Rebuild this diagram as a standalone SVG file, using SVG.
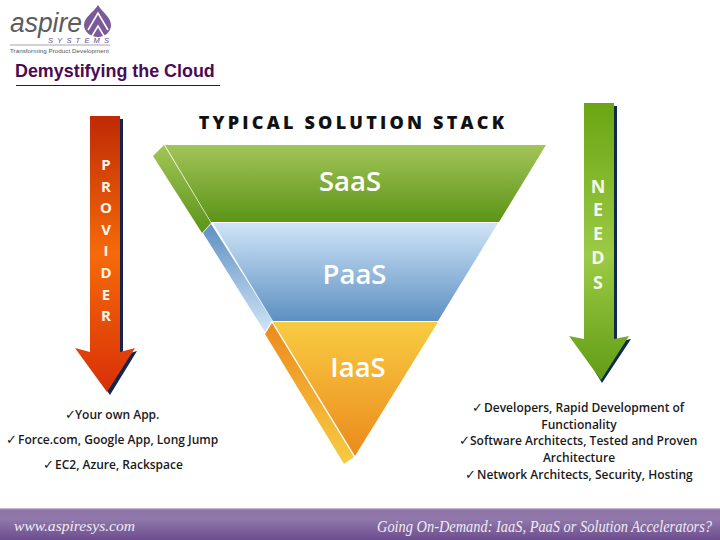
<svg xmlns="http://www.w3.org/2000/svg" width="720" height="540" viewBox="0 0 720 540">
<style>
.b{font-family:"Open Sans","Noto Sans",sans-serif;font-size:12px;font-weight:600;fill:#1a1a1a}
.c{font-family:"DejaVu Sans",sans-serif;font-size:13px;font-weight:400}
.s{font-family:"Open Sans","Noto Sans",sans-serif;font-size:27.5px;font-weight:600;fill:#fff;text-anchor:middle}
.v{font-family:"Open Sans","Noto Sans",sans-serif;font-weight:700;text-anchor:middle}
.f{font-family:"Liberation Serif",serif;font-style:italic;fill:#f0ecf4}
</style>
<defs>
<linearGradient id="g1" x1="0" y1="0" x2="0" y2="1"><stop offset="0" stop-color="#a3c558"/><stop offset="1" stop-color="#5c9418"/></linearGradient>
<linearGradient id="g2" x1="0" y1="0" x2="0" y2="1"><stop offset="0" stop-color="#cfe4f7"/><stop offset="1" stop-color="#5d90c2"/></linearGradient>
<linearGradient id="g2s" x1="0" y1="0" x2="0" y2="1"><stop offset="0" stop-color="#5d90c2"/><stop offset="1" stop-color="#cfe4f7"/></linearGradient>
<linearGradient id="g3" x1="0" y1="0" x2="0" y2="1"><stop offset="0" stop-color="#f8cb42"/><stop offset="1" stop-color="#ec8a1c"/></linearGradient>
<linearGradient id="g3s" x1="0" y1="0" x2="0" y2="1"><stop offset="0" stop-color="#ec8a1c"/><stop offset="1" stop-color="#f8cb42"/></linearGradient>
<linearGradient id="gr" x1="0" y1="0" x2="0" y2="1"><stop offset="0" stop-color="#bf2a05"/><stop offset=".5" stop-color="#f56a0a"/><stop offset="1" stop-color="#d83008"/></linearGradient>
<linearGradient id="gn" x1="0" y1="0" x2="0" y2="1"><stop offset="0" stop-color="#6aa513"/><stop offset=".55" stop-color="#9ccb45"/><stop offset="1" stop-color="#629c14"/></linearGradient>
<linearGradient id="gf" x1="0" y1="0" x2="0" y2="1"><stop offset="0" stop-color="#d9c8df"/><stop offset=".06" stop-color="#8e73a6"/><stop offset=".35" stop-color="#9078aa"/><stop offset="1" stop-color="#6c4d8e"/></linearGradient>
</defs>
<rect width="720" height="540" fill="#fff"/>

<g id="logo">
<text x="10" y="32" font-family="'Liberation Sans',sans-serif" font-style="italic" font-size="27" fill="#5c5c5c" textLength="72" lengthAdjust="spacingAndGlyphs">aspire</text>
<path d="M98 5C94 12 84 17 84 25C84 32 91 37 98 37C105 37 111 32 111 25C111 17 102 12 98 5Z" fill="#7a5a98"/>
<path d="M88 30L98 13L108 30M92 36L98 26L104 36" fill="none" stroke="#fff" stroke-width="1.6"/>
<text x="48" y="43" font-family="'Liberation Sans',sans-serif" font-style="italic" font-size="7.500" letter-spacing="4.200" fill="#6c4d8e">SYSTEMS</text>
<rect x="10" y="44.500" width="100" height="1" fill="#a7a2ad"/>
<text x="10" y="53" font-family="'Liberation Sans',sans-serif" font-size="6.200" fill="#555" textLength="99">Transforming Product Development</text>
</g>

<g id="title">
<text x="15" y="77" font-family="'Liberation Sans',sans-serif" font-weight="700" font-size="17.900" fill="#4b0a55">Demystifying the Cloud</text>
<rect x="16" y="85" width="204" height="1" fill="#222"/>
</g>
<text id="heading" x="353" y="129" text-anchor="middle" font-family="'Open Sans',sans-serif" font-weight="800" font-size="18" letter-spacing="3.200" fill="#111">TYPICAL SOLUTION STACK</text>

<g id="saas">
<polygon points="153,156 164,145 211,223 202,233" fill="url(#g1)"/>
<polygon points="165,145 546,145 499,222 211,222" fill="url(#g1)"/>
<text class="s" x="350" y="191">SaaS</text>
</g>
<g id="paas">
<polygon points="203,233 211,224 272,320 265,332" fill="url(#g2s)"/>
<polygon points="213,223 498,223 438,321 273,321" fill="url(#g2)"/>
<text class="s" x="354.500" y="284">PaaS</text>
</g>
<g id="iaas">
<polygon points="265,334 272,323 354,457 344,464" fill="url(#g3s)"/>
<polygon points="273,322 438,322 355,456" fill="url(#g3)"/>
<text class="s" x="358" y="377">IaaS</text>
</g>

<g id="provider">
<polygon points="93,119 123,119 123,355 137,351 110,395 78,351 93,355" fill="#14254f"/>
<polygon points="90,116 120,116 120,352 135,348 107,392 75,348 90,352" fill="url(#gr)"/>
<text class="v" font-size="15" fill="#fff6ea">
<tspan x="106" y="170">P</tspan><tspan x="106" y="192">R</tspan><tspan x="106" y="213">O</tspan><tspan x="106" y="235">V</tspan><tspan x="106" y="256">I</tspan><tspan x="106" y="278">D</tspan><tspan x="106" y="300">E</tspan><tspan x="106" y="321">R</tspan>
</text>
</g>

<g id="needs">
<polygon points="587,106 617,106 617,342 631,339 602,383 575,339 587,342" fill="#0f2a4a"/>
<polygon points="584,103 614,103 614,339 629,336 601,380 569,336 584,339" fill="url(#gn)"/>
<text class="v" font-size="18" font-weight="600" fill="#f4f9e8">
<tspan x="598" y="193">N</tspan><tspan x="598" y="216">E</tspan><tspan x="598" y="240">E</tspan><tspan x="598" y="264">D</tspan><tspan x="598" y="289">S</tspan>
</text>
</g>

<g id="provider-list">
<text class="b" x="65" y="419"><tspan class="c">✓</tspan><tspan x="75">Your own App.</tspan></text>
<text class="b" x="6" y="444"><tspan class="c">✓</tspan><tspan x="18">Force.com, Google App, Long Jump</tspan></text>
<text class="b" x="43" y="469"><tspan class="c">✓</tspan><tspan x="55">EC2, Azure, Rackspace</tspan></text>
</g>

<g id="needs-list">
<text class="b" x="472" y="412"><tspan class="c">✓</tspan><tspan x="484">Developers, Rapid Development of</tspan></text>
<text class="b" x="579" y="429" text-anchor="middle">Functionality</text>
<text class="b" x="459" y="445"><tspan class="c">✓</tspan><tspan x="470">Software Architects, Tested and Proven</tspan></text>
<text class="b" x="465" y="479"><tspan class="c">✓</tspan><tspan x="477">Network Architects, Security, Hosting</tspan></text>
<text class="b" x="579" y="462" text-anchor="middle">Architecture</text>
</g>

<g id="footer">
<rect x="0" y="508" width="720" height="32" fill="url(#gf)"/>
<text class="f" x="14" y="531" font-size="15.500" textLength="121" lengthAdjust="spacingAndGlyphs">www.aspiresys.com</text>
<text class="f" transform="translate(377,532) scale(1,1.15)" font-size="14" textLength="335" lengthAdjust="spacingAndGlyphs">Going On-Demand: IaaS, PaaS or Solution Accelerators?</text>
</g>
</svg>
